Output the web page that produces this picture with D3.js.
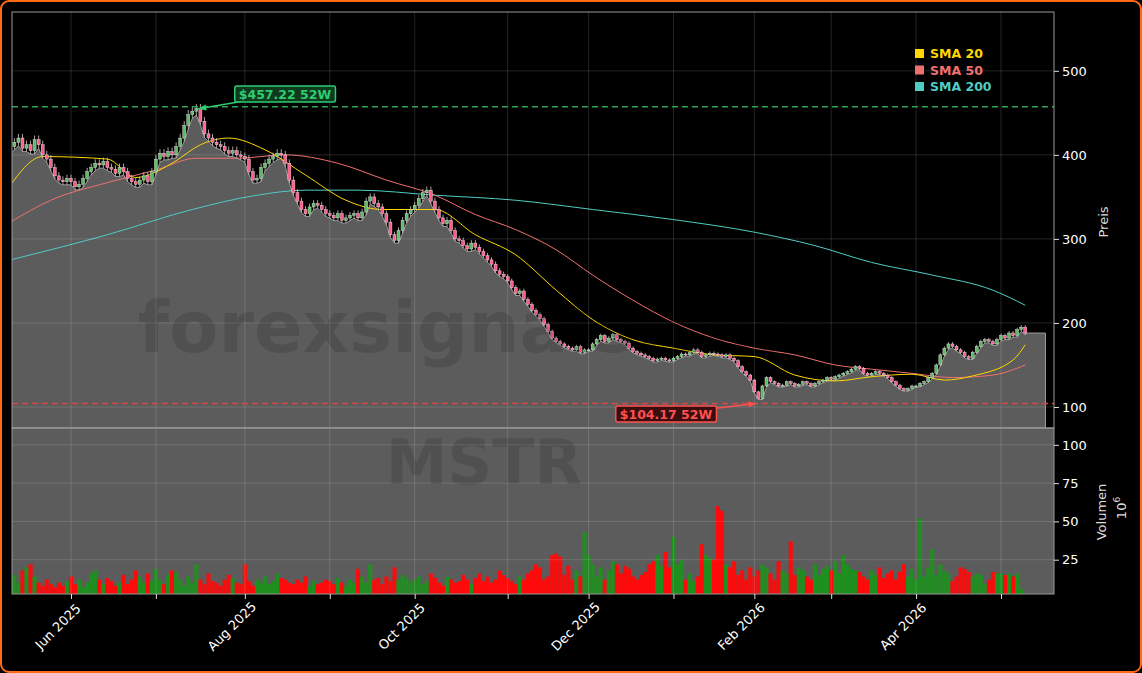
<!DOCTYPE html>
<html><head><meta charset="utf-8">
<script src="https://cdn.jsdelivr.net/npm/d3@7"></script>
<style>body{margin:0;background:#000;}svg{display:block;}</style>
</head><body>
<script>
const monthNames = ["2025-05","2025-06","2025-07","2025-08","2025-09","2025-10","2025-11","2025-12","2026-01","2026-02","2026-03","2026-04","2026-05"];
const monthDays = [15,21,22,21,21,23,20,21,20,19,21,21,7];
const closes = [
410,415,420,408,412,405,418,412,400,395,385,375,370,368,372,
368,362,365,372,380,385,390,388,392,385,383,378,385,380,372,368,365,370,375,368,380,
395,402,398,404,400,410,420,435,448,452,455,440,425,420,415,412,410,405,402,405,400,398,
395,380,370,372,385,390,395,398,402,400,390,370,355,345,335,330,338,342,340,335,330,
328,325,330,322,325,328,330,325,332,345,350,342,338,330,320,305,298,310,322,330,335,
340,348,355,358,345,335,325,318,322,310,300,298,292,288,295,290,285,280,275,270,262,258,255,
250,242,235,238,228,222,215,210,205,198,190,182,178,175,172,170,168,172,165,168,
168,175,180,185,178,182,186,180,178,176,170,166,164,162,160,158,155,157,158,156,155,
158,160,163,162,165,168,165,160,162,164,163,162,160,162,158,155,148,142,138,132,
118,110,125,135,130,128,125,126,130,128,125,127,130,128,125,128,130,132,135,
133,136,138,140,142,145,148,146,140,138,140,142,140,138,135,130,126,122,120,122,125,
125,128,130,135,140,150,162,170,175,172,168,165,160,158,165,172,178,180,178,175,180,
185,182,188,185,192,195,188];
const volumes = [
12,15,10,18,20,22,14,10,8,12,9,7,10,8,11,
14,9,12,7,10,16,18,12,9,13,11,8,10,15,9,12,18,14,10,16,11,
19,12,9,15,18,17,12,8,14,10,22,12,9,16,11,10,8,12,15,13,10,9,
22,11,8,12,10,14,9,11,16,13,12,10,9,12,10,14,8,11,9,10,12,
11,9,13,10,8,12,10,19,14,10,22,12,13,9,14,11,20,12,15,13,10,
12,14,9,11,16,13,10,8,14,12,10,11,15,12,9,13,16,11,14,10,12,18,15,
13,11,9,14,12,16,18,22,20,12,14,28,29,27,15,21,12,18,14,43,
28,22,14,20,12,18,24,22,16,21,19,14,12,15,17,22,24,28,21,30,
20,40,22,25,12,16,11,14,35,28,26,25,60,57,22,20,24,15,18,12,
20,14,18,22,20,16,12,24,18,16,37,15,20,18,14,12,22,15,19,
21,18,24,16,28,22,19,18,17,14,12,18,15,20,13,16,18,12,17,22,14,
19,12,52,14,20,32,15,22,18,16,11,14,20,19,17,14,16,15,9,12,17,
16,16,15,16,14,16,6];
const sma20 = [[0,364],[8,398],[24,395],[31,373],[40,390],[47,412],[54,420],[63,406],[73,376],[83,346],[92,335],[105,335],[115,305],[125,281],[135,239],[144,204],[154,180],[164,170],[174,162],[184,160],[194,138],[204,131],[213,136],[223,139],[231,132],[238,137],[248,156],[251,174]];
const sma50 = [[0,320],[10,346],[24,367],[36,382],[46,396],[56,396],[68,400],[81,390],[93,370],[105,352],[115,329],[125,311],[135,287],[144,257],[154,227],[164,201],[174,182],[184,170],[194,162],[204,150],[213,145],[223,140],[233,135],[243,138],[251,150]];
const sma200 = [[0,275],[24,305],[45,335],[61,352],[73,358],[86,358],[105,352],[125,346],[144,335],[164,323],[184,308],[199,292],[213,272],[228,257],[243,239],[251,221]];
const priceTicks = [100,200,300,400,500];
const volTicks = [25,50,75,100];
const high52 = 457.22, low52 = 104.17;
const legendItems = [["SMA 20","#ffd700"],["SMA 50","#f07070"],["SMA 200","#4ecdc4"]];

const N = closes.length;
const bars = closes.map((c,i)=>{const o = i? closes[i-1] : c-5; return {i, o, c, h:Math.max(o,c)*1.012, l:Math.min(o,c)*0.99, v:volumes[i]};});
const monthStart = []; let acc=0; monthDays.forEach((n,k)=>{monthStart.push([acc,monthNames[k]]); acc+=n;});
const monthTicks = monthStart.slice(1);

const W=1142,H=673, L=12, R=1054, T=12, MID=428, B=594;
const svg = d3.select("body").append("svg").attr("width",W).attr("height",H);
svg.append("rect").attr("x",1).attr("y",1).attr("width",W-2).attr("height",H-2).attr("rx",8).attr("fill","#000").attr("stroke","#ff6a13").attr("stroke-width",2);
const defs = svg.append("defs");
defs.append("clipPath").attr("id","cp").append("rect").attr("x",L).attr("y",T).attr("width",R-L).attr("height",MID-T);
defs.append("clipPath").attr("id","cv").append("rect").attr("x",L).attr("y",MID).attr("width",R-L).attr("height",B-MID);

const x = d3.scaleLinear().domain([15,245]).range([71,1001]);
const y = d3.scaleLinear().domain([75,570]).range([MID,T]);
const yv = d3.scaleLinear().domain([2.6,111]).range([B,MID]);
const bw = x(1)-x(0);

svg.append("rect").attr("x",L).attr("y",MID).attr("width",R-L).attr("height",B-MID).attr("fill","#5c5c5c");
const pg = svg.append("g").attr("clip-path","url(#cp)");
const vg = svg.append("g").attr("clip-path","url(#cv)");
const areaPts = bars.map(b=>[b.i,b.l]);
const lastX = N-1+5;
areaPts.push([N-1,bars[N-1].c],[lastX,bars[N-1].c]);
pg.append("path").datum(areaPts).attr("fill","#5c5c5c").attr("stroke","#9a9a9a").attr("stroke-width",1)
  .attr("d",d3.area().x(p=>x(p[0])).y0(MID).y1(p=>y(p[1])));
pg.append("line").attr("x1",x(lastX)).attr("x2",x(lastX)).attr("y1",y(bars[N-1].c)).attr("y2",MID).attr("stroke","#9a9a9a");

const grid = svg.append("g").attr("stroke","#fff").attr("stroke-opacity",0.18).attr("stroke-width",0.8);
monthTicks.forEach(m=>grid.append("line").attr("x1",x(m[0])).attr("x2",x(m[0])).attr("y1",T).attr("y2",B));
priceTicks.forEach(t=>grid.append("line").attr("x1",L).attr("x2",R).attr("y1",y(t)).attr("y2",y(t)));
volTicks.forEach(t=>grid.append("line").attr("x1",L).attr("x2",R).attr("y1",yv(t)).attr("y2",yv(t)));

svg.append("text").attr("x",484).attr("y",352).attr("text-anchor","middle").attr("font-family","DejaVu Sans").attr("font-weight","bold").attr("font-size",72).attr("fill","#000").attr("fill-opacity",0.13).text("forexsignals.com");
svg.append("text").attr("x",484).attr("y",484).attr("text-anchor","middle").attr("font-family","DejaVu Sans").attr("font-weight","bold").attr("font-size",62).attr("fill","#000").attr("fill-opacity",0.13).text("MSTR");

vg.selectAll("rect").data(bars).join("rect")
  .attr("x",b=>x(b.i)-bw/2).attr("width",bw).attr("y",b=>yv(b.v)).attr("height",b=>B-yv(b.v))
  .attr("fill",b=>b.c>=b.o?"#1f8f1f":"#ff0a0a");

const line = d3.line().x(p=>x(p[0])).y(p=>y(p[1])).curve(d3.curveMonotoneX);
[[sma200,"#4ecdc4"],[sma50,"#f07070"],[sma20,"#ffd700"]].forEach(([s,c])=>pg.append("path").datum(s).attr("fill","none").attr("stroke",c).attr("stroke-width",1).attr("d",line));

const cg = pg.append("g");
bars.forEach(b=>{
  const up=b.c>=b.o, col = up?"#5dbb63":"#ff5c8a";
  cg.append("line").attr("x1",x(b.i)).attr("x2",x(b.i)).attr("y1",y(b.h)).attr("y2",y(b.l)).attr("stroke","#d8c8cc").attr("stroke-width",0.8);
  cg.append("rect").attr("x",x(b.i)-1.5).attr("width",3).attr("y",y(Math.max(b.o,b.c))).attr("height",Math.max(1,Math.abs(y(b.o)-y(b.c)))).attr("fill",col).attr("stroke","#eee").attr("stroke-width",0.4);
});

svg.append("line").attr("x1",L).attr("x2",R).attr("y1",y(high52)).attr("y2",y(high52)).attr("stroke","#2ea65a").attr("stroke-width",1.5).attr("stroke-dasharray","6,4");
svg.append("line").attr("x1",L).attr("x2",R).attr("y1",y(low52)).attr("y2",y(low52)).attr("stroke","#d94848").attr("stroke-width",1.5).attr("stroke-dasharray","6,4");
const hiBar = bars.reduce((a,b)=>b.h>a.h?b:a), loBar = bars.reduce((a,b)=>b.l<a.l?b:a);
function label(txt,cx,cy,fg,bg,tx,ty){
  svg.append("line").attr("x1",cx).attr("y1",cy).attr("x2",tx).attr("y2",ty).attr("stroke",fg).attr("stroke-width",1.5);
  const ang=Math.atan2(ty-cy,tx-cx);
  const p=[[tx,ty],[tx-8*Math.cos(ang)+3*Math.sin(ang),ty-8*Math.sin(ang)-3*Math.cos(ang)],[tx-8*Math.cos(ang)-3*Math.sin(ang),ty-8*Math.sin(ang)+3*Math.cos(ang)]];
  svg.append("path").attr("d",d3.line()(p)+"Z").attr("fill",fg);
  const g=svg.append("g");
  const r=g.append("rect");
  const t=g.append("text").attr("x",cx).attr("y",cy+4.5).attr("text-anchor","middle").attr("font-family","DejaVu Sans").attr("font-weight","bold").attr("font-size",12.5).attr("fill",fg).text(txt);
  const bb=t.node().getBBox();
  r.attr("x",bb.x-4).attr("y",cy-8).attr("width",bb.width+8).attr("height",16).attr("rx",2).attr("fill",bg).attr("stroke",fg).attr("stroke-width",1.5);
}
label("$"+high52.toFixed(2)+" 52W",285,94,"#2ecc71","#0e3a1e",x(hiBar.i)+2,y(high52)+2);
label("$"+low52.toFixed(2)+" 52W",666,414,"#ff5050","#3a0e0e",x(loBar.i)-2,y(low52));

svg.append("rect").attr("x",L).attr("y",T).attr("width",R-L).attr("height",MID-T).attr("fill","none").attr("stroke","#999");
svg.append("rect").attr("x",L).attr("y",MID).attr("width",R-L).attr("height",B-MID).attr("fill","none").attr("stroke","#999");

const ap = svg.append("g").attr("transform",`translate(${R},0)`).call(d3.axisRight(y).tickValues(priceTicks).tickSize(5));
const av = svg.append("g").attr("transform",`translate(${R},0)`).call(d3.axisRight(yv).tickValues(volTicks).tickSize(5));
const fmt = d3.timeFormat("%b %Y");
const ax = svg.append("g").attr("transform",`translate(0,${B})`).call(d3.axisBottom(x).tickValues(monthTicks.map(m=>m[0])).tickSize(5)
  .tickFormat(v=>{const m=monthTicks.find(t=>t[0]===v)[1]; const dt=d3.timeParse("%Y-%m")(m); return dt.getMonth()%2===1?fmt(dt):"";}));
[ap,av,ax].forEach(g=>{g.select(".domain").remove();g.selectAll("line").attr("stroke","#ddd");g.selectAll("text").attr("fill","#fff").attr("font-family","DejaVu Sans").attr("font-size",13);});
ax.selectAll("text").attr("text-anchor","middle").attr("dy",0).attr("transform","translate(-16,30) rotate(-45)");
svg.append("text").attr("transform","translate(1108,222) rotate(-90)").attr("text-anchor","middle").attr("fill","#ddd").attr("font-family","DejaVu Sans").attr("font-size",13).text("Preis");
svg.append("text").attr("transform","translate(1106,512) rotate(-90)").attr("text-anchor","middle").attr("fill","#ddd").attr("font-family","DejaVu Sans").attr("font-size",13).text("Volumen");
const tt=svg.append("text").attr("transform","translate(1126,508) rotate(-90)").attr("text-anchor","middle").attr("fill","#ddd").attr("font-family","DejaVu Sans").attr("font-size",13);
tt.append("tspan").text("10");tt.append("tspan").attr("font-size",9).attr("dy",-6).text("6");

legendItems.forEach((it,i)=>{
  svg.append("rect").attr("x",915).attr("y",49+i*16.5).attr("width",9).attr("height",9).attr("fill",it[1]);
  svg.append("text").attr("x",930).attr("y",58+i*16.5).attr("fill",it[1]).attr("font-family","DejaVu Sans").attr("font-weight","bold").attr("font-size",12.5).text(it[0]);
});
</script>
</body></html>
